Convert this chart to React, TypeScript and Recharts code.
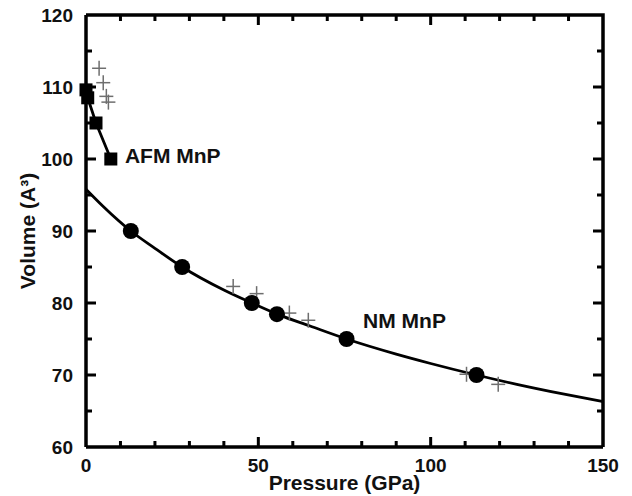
import { ComposedChart, XAxis, YAxis, Line, Scatter, ReferenceDot } from 'recharts';

// axis ticks (minor every 10 GPa / 5 A^3, labels on the major ones)
const xTicks = [0, 10, 20, 30, 40, 50, 60, 70, 80, 90, 100, 110, 120, 130, 140, 150];
const yTicks = [60, 65, 70, 75, 80, 85, 90, 95, 100, 105, 110, 115, 120];
const xLabeled = [0, 50, 100, 150];
const yLabeled = [60, 70, 80, 90, 100, 110, 120];

// AFM MnP, calculated (squares joined by a line)
const afmCalc = [
  { p: 0, v: 109.6 },
  { p: 0.5, v: 108.5 },
  { p: 2.9, v: 105 },
  { p: 7.2, v: 100 },
];

// AFM experiment (crosses)
const afmExp = [
  { p: 3.8, v: 112.6 },
  { p: 5.0, v: 110.6 },
  { p: 5.9, v: 108.7 },
  { p: 6.5, v: 107.9 },
];

// NM MnP, calculated (circles)
const nmCalc = [
  { p: 13, v: 90 },
  { p: 27.9, v: 85 },
  { p: 48.1, v: 80 },
  { p: 55.4, v: 78.45 },
  { p: 75.6, v: 75 },
  { p: 113.3, v: 70 },
];

// NM experiment (crosses)
const nmExp = [
  { p: 42.7, v: 82.3 },
  { p: 49.5, v: 81.3 },
  { p: 59, v: 78.6 },
  { p: 64.5, v: 77.6 },
  { p: 110.4, v: 70.1 },
  { p: 119.6, v: 68.7 },
];

// EOS fit through the NM points
const nmFit = [
  { p: 0, v: 95.8 },
  { p: 5, v: 93.4 },
  { p: 13, v: 90 },
  { p: 20, v: 87.6 },
  { p: 27.9, v: 85 },
  { p: 40, v: 81.8 },
  { p: 48.1, v: 80 },
  { p: 56, v: 78.35 },
  { p: 65, v: 76.8 },
  { p: 75.6, v: 75 },
  { p: 90, v: 72.9 },
  { p: 100, v: 71.6 },
  { p: 113.3, v: 70 },
  { p: 125, v: 68.7 },
  { p: 138, v: 67.4 },
  { p: 150, v: 66.3 },
];

const FONT = '"Liberation Sans", Arial, Helvetica, sans-serif';
const INK = '#000';
const TXT = '#111';
const CROSS = '#6e6e6e';

const X_MIN = 0;
const X_MAX = 150;
const Y_MIN = 60;
const Y_MAX = 120;

// tick-mark positions on the four sides of the frame
const innerX = xTicks.filter((t) => t !== X_MIN && t !== X_MAX);
const innerY = yTicks.filter((t) => t !== Y_MIN && t !== Y_MAX);
const bottomMarks = innerX.map((t) => ({ p: t, v: Y_MIN, major: xLabeled.includes(t) }));
const topMarks = innerX.map((t) => ({ p: t, v: Y_MAX, major: xLabeled.includes(t) }));
const leftMarks = innerY.map((t) => ({ p: X_MIN, v: t, major: yLabeled.includes(t) }));
const rightMarks = innerY.map((t) => ({ p: X_MAX, v: t, major: yLabeled.includes(t) }));

const BottomLabel = (props: any) => {
  const { x, y, payload } = props;
  if (!xLabeled.includes(payload.value)) return <g />;
  return (
    <text x={x} y={y + 25} textAnchor="middle" fontFamily={FONT} fontWeight="bold" fontSize={19} fill={TXT}>
      {payload.value}
    </text>
  );
};

const LeftLabel = (props: any) => {
  const { x, y, payload } = props;
  if (!yLabeled.includes(payload.value)) return <g />;
  return (
    <text x={x - 13} y={y + 7} textAnchor="end" fontFamily={FONT} fontWeight="bold" fontSize={19} fill={TXT}>
      {payload.value}
    </text>
  );
};

// tick mark as a small filled bar pointing into the plot
const mark = (dir: 'up' | 'down' | 'left' | 'right') => (props: any) => {
  const { cx, cy, payload } = props;
  const len = payload && payload.major ? 10 : 6;
  const w = 3;
  if (dir === 'up') return <path d={`M${cx - w / 2},${cy}h${w}v${-len}h${-w}Z`} fill={INK} />;
  if (dir === 'down') return <path d={`M${cx - w / 2},${cy}h${w}v${len}h${-w}Z`} fill={INK} />;
  if (dir === 'right') return <path d={`M${cx},${cy - w / 2}v${w}h${len}v${-w}Z`} fill={INK} />;
  return <path d={`M${cx},${cy - w / 2}v${w}h${-len}v${-w}Z`} fill={INK} />;
};
const markUp = mark('up');
const markDown = mark('down');
const markRight = mark('right');
const markLeft = mark('left');

const Square = (props: any) => {
  const { cx, cy } = props;
  return <rect x={cx - 6.5} y={cy - 6.5} width={13} height={13} fill={INK} />;
};

const Dot = (props: any) => {
  const { cx, cy } = props;
  return <circle cx={cx} cy={cy} r={8} fill={INK} />;
};

const Cross = (props: any) => {
  const { cx, cy } = props;
  return (
    <g stroke={CROSS} strokeWidth={1.5}>
      <line x1={cx - 7} x2={cx + 7} y1={cy} y2={cy} />
      <line x1={cx} x2={cx} y1={cy - 7.5} y2={cy + 7.5} />
    </g>
  );
};

const annot = (text: string) => (props: any) => {
  const vb = props.viewBox || {};
  return (
    <text x={vb.x} y={vb.y} fontFamily={FONT} fontWeight="bold" fontSize={21} fill={TXT}>
      {text}
    </text>
  );
};

const XTitle = (props: any) => {
  const vb = props.viewBox || { x: 86, y: 447, width: 517 };
  return (
    <text x={vb.x + vb.width / 2} y={490} textAnchor="middle" fontFamily={FONT} fontWeight="bold" fontSize={21} fill={TXT}>
      Pressure (GPa)
    </text>
  );
};

const YTitle = (props: any) => {
  const vb = props.viewBox || { x: 26, y: 15, height: 432 };
  const cx = 27;
  const cy = vb.y + vb.height / 2;
  return (
    <text
      x={cx}
      y={cy}
      transform={`rotate(-90, ${cx}, ${cy})`}
      textAnchor="middle"
      dominantBaseline="central"
      fontFamily={FONT}
      fontWeight="bold"
      fontSize={21}
      fill={TXT}
    >
      Volume (A³)
    </text>
  );
};

const axisLine = { stroke: INK, strokeWidth: 3.5 };

export default function App() {
  return (
    <div style={{ position: 'absolute', left: 0, top: 0, width: 632, height: 496, background: '#fff' }}>
      <ComposedChart width={632} height={496} margin={{ top: 15, right: 29, bottom: 19, left: 26 }}>
        <XAxis
          dataKey="p"
          type="number"
          domain={[X_MIN, X_MAX]}
          ticks={xTicks}
          interval={0}
          height={30}
          tickSize={0}
          tickMargin={0}
          tickLine={false}
          axisLine={axisLine}
          tick={BottomLabel}
          label={XTitle}
        />
        <YAxis
          type="number"
          domain={[Y_MIN, Y_MAX]}
          ticks={yTicks}
          interval={0}
          width={60}
          tickSize={0}
          tickMargin={0}
          tickLine={false}
          axisLine={axisLine}
          tick={LeftLabel}
          label={YTitle}
        />

        <Line
          data={[{ p: X_MIN, v: Y_MAX }, { p: X_MAX, v: Y_MAX }, { p: X_MAX, v: Y_MIN }]}
          dataKey="v"
          type="linear"
          stroke={INK}
          strokeWidth={3.5}
          dot={false}
          activeDot={false}
          isAnimationActive={false}
        />

        <Line
          data={nmFit}
          dataKey="v"
          type="monotone"
          stroke={INK}
          strokeWidth={2.8}
          dot={false}
          activeDot={false}
          isAnimationActive={false}
        />
        <Line
          data={afmCalc}
          dataKey="v"
          type="linear"
          stroke={INK}
          strokeWidth={2.8}
          dot={false}
          activeDot={false}
          isAnimationActive={false}
        />

        <Scatter data={afmExp} dataKey="v" shape={Cross} isAnimationActive={false} />
        <Scatter data={nmExp} dataKey="v" shape={Cross} isAnimationActive={false} />
        <Scatter data={afmCalc} dataKey="v" shape={Square} isAnimationActive={false} />
        <Scatter data={nmCalc} dataKey="v" shape={Dot} isAnimationActive={false} />

        <Scatter data={bottomMarks} dataKey="v" shape={markUp} isAnimationActive={false} />
        <Scatter data={topMarks} dataKey="v" shape={markDown} isAnimationActive={false} />
        <Scatter data={leftMarks} dataKey="v" shape={markRight} isAnimationActive={false} />
        <Scatter data={rightMarks} dataKey="v" shape={markLeft} isAnimationActive={false} />

        <ReferenceDot x={11.3} y={99.45} r={0} stroke="none" fill="none" label={annot('AFM MnP')} />
        <ReferenceDot x={80.4} y={76.5} r={0} stroke="none" fill="none" label={annot('NM MnP')} />
      </ComposedChart>
    </div>
  );
}
